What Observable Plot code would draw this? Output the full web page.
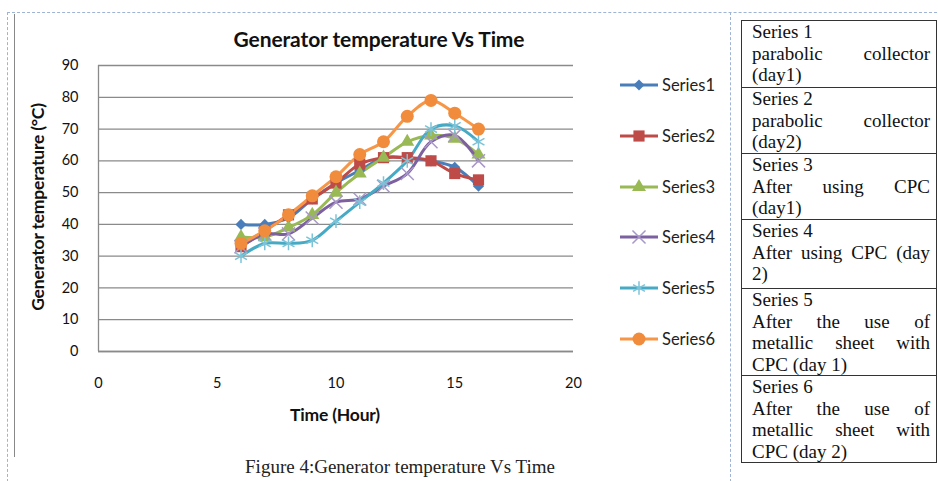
<!DOCTYPE html>
<html>
<head>
<meta charset="utf-8">
<script src="https://cdn.jsdelivr.net/npm/d3@7"></script>
<script src="https://cdn.jsdelivr.net/npm/@observablehq/plot@0.6"></script>
<style>
  html, body { margin: 0; padding: 0; background: #fff; }
  #page { position: relative; width: 938px; height: 481px; overflow: hidden; background: #fff; }
  .abs { position: absolute; }
  #title { left: 129px; width: 500px; top: 26px; text-align: center; font: bold 21px Lato, sans-serif; color: #111; letter-spacing: -0.1px; }
  #ylab { left: 37px; top: 207px; transform: translate(-50%, -50%) rotate(-90deg); white-space: nowrap; font: bold 17.5px Lato, sans-serif; color: #111; letter-spacing: -0.2px; }
  #xlab { left: 235px; width: 200px; top: 404px; text-align: center; font: bold 17.5px Lato, sans-serif; color: #111; letter-spacing: -0.2px; }
  #caption { left: 150px; width: 500px; top: 456px; text-align: center; font: 19px "Liberation Serif", serif; color: #222; letter-spacing: 0px; }
  #tbl { left: 741px; top: 20px; border-collapse: collapse; font: 19px/21.5px "Liberation Serif", serif; color: #111; }
  #tbl td { border: 1.5px solid #333; width: 178px; padding: 0 6px 0 10px; text-align: justify; vertical-align: top; }
</style>
</head>
<body>
<div id="page">
  <div class="abs" style="left:7px;top:12px;width:935px;height:0;border-top:1px dashed #9fb3d6;"></div>
  <div class="abs" style="left:7px;top:12px;width:0;height:470px;border-left:1px dashed #9fb3d6;"></div>
  <div class="abs" style="left:730px;top:12px;width:0;height:470px;border-left:1px dashed #9fb3d6;"></div>
  <div class="abs" style="left:14px;top:14px;width:0;height:443px;border-left:1.5px solid #888;"></div>
  <div id="chart" class="abs" style="left:0;top:0;"></div>
  <div id="title" class="abs">Generator temperature Vs Time</div>
  <div id="ylab" class="abs">Generator temperature (°C)</div>
  <div id="xlab" class="abs">Time (Hour)</div>
  <div id="caption" class="abs">Figure 4:Generator temperature Vs Time</div>
  <table id="tbl" class="abs">
    <tr style="height:67px"><td>Series 1<br>parabolic collector (day1)</td></tr>
    <tr style="height:66px"><td>Series 2<br>parabolic collector (day2)</td></tr>
    <tr style="height:66px"><td>Series 3<br>After using CPC (day1)</td></tr>
    <tr style="height:69px"><td>Series 4<br>After using CPC (day 2)</td></tr>
    <tr style="height:87px"><td>Series 5<br>After the use of metallic sheet with CPC (day 1)</td></tr>
    <tr style="height:87px"><td>Series 6<br>After the use of metallic sheet with CPC (day 2)</td></tr>
  </table>
</div>
<script>
// ---- data ----
const hours   = [6, 7, 8, 9, 10, 11, 12, 13, 14, 15, 16];
const series1 = [40, 40, 42, 48, 53, 57, 61, 61, 60, 58, 52];
const series2 = [33, 38, 43, 48, 53, 59, 61, 61, 60, 56, 54];
const series3 = [36, 36, 39, 43, 50, 56, 61, 66, 68, 67, 62];
const series4 = [33, 37, 37, 42, 47, 48, 52, 56, 66, 68, 60];
const series5 = [30, 34, 34, 35, 41, 47, 53, 60, 70, 71, 66];
const series6 = [34, 38, 43, 49, 55, 62, 66, 74, 79, 75, 70];
const seriesNames = ["Series1", "Series2", "Series3", "Series4", "Series5", "Series6"];
const xTicks = [0, 5, 10, 15, 20];
const yTicks = [0, 10, 20, 30, 40, 50, 60, 70, 80, 90];

// ---- styles ----
const colors  = ["#4A7EBB", "#BE4B48", "#98B954", "#7D60A0", "#46AAC5", "#F79646"];
const markerColors = ["#4A7EBB", "#BE4B48", "#98B954", "#A898C8", "#7CC3D8", "#F08C3C"];
const symbols = ["diamond2", "square", "triangle", "times", "asterisk", "circle"];
const radii   = [5, 6.3, 5.2, 6, 6.5, 6.5];
const filled  = [true, true, true, false, false, true];

const allSeries = [series1, series2, series3, series4, series5, series6];
const rows = allSeries.map((vals, i) => hours.map((h, j) => ({series: seriesNames[i], idx: i, x: h, y: vals[j]})));

const marks = [
  Plot.gridY(yTicks, {stroke: "#8a8a8a", strokeOpacity: 1, strokeWidth: 1.3}),
  Plot.ruleX([0], {stroke: "#8a8a8a", strokeWidth: 1.3}),
  Plot.ruleY([0], {stroke: "#8a8a8a", strokeWidth: 1.3}),
  Plot.axisY({ticks: yTicks, tickSize: 0, tickPadding: 20, fontSize: 14.5, label: null}),
  Plot.axisX({ticks: xTicks, tickSize: 0, tickPadding: 26, fontSize: 14.5, label: null})
];
rows.forEach((d, i) => {
  marks.push(Plot.line(d, {x: "x", y: "y", stroke: colors[i], strokeWidth: 3, curve: "catmull-rom"}));
});
rows.forEach((d, i) => {
  marks.push(Plot.dot(d, filled[i]
    ? {x: "x", y: "y", symbol: () => symbols[i], r: radii[i], fill: markerColors[i], stroke: "none"}
    : {x: "x", y: "y", symbol: () => symbols[i], r: radii[i], fill: "none", stroke: markerColors[i], strokeWidth: 1.5}));
});

const chart = Plot.plot({
  width: 738,
  height: 481,
  marginLeft: 98,
  marginRight: 165,
  marginTop: 65,
  marginBottom: 130,
  x: {domain: [0, 20]},
  y: {domain: [0, 90]},
  style: {fontFamily: "Lato, sans-serif", color: "#111", background: "transparent"},
  marks
});
document.getElementById("chart").appendChild(chart);

// ---- legend (drawn into the same svg) ----
const svg = d3.select(chart);
const lg = svg.append("g").attr("font-family", "Lato, sans-serif").attr("font-size", 16.5)
  .attr("fill", "#222").attr("text-anchor", "start");
const legendY = [85, 136, 187, 237, 288, 339];
const symMap = {diamond2: d3.symbolDiamond2, square: d3.symbolSquare, triangle: d3.symbolTriangle,
                times: d3.symbolTimes, asterisk: d3.symbolAsterisk, circle: d3.symbolCircle};
seriesNames.forEach((name, i) => {
  const g = lg.append("g").attr("transform", `translate(620,${legendY[i]})`);
  g.append("line").attr("x1", 0).attr("x2", 38).attr("y1", 0).attr("y2", 0)
    .attr("stroke", colors[i]).attr("stroke-width", 3);
  const path = d3.symbol(symMap[symbols[i]], Math.PI * radii[i] * radii[i])();
  const p = g.append("path").attr("d", path).attr("transform", "translate(19,0)");
  if (filled[i]) p.attr("fill", markerColors[i]);
  else p.attr("fill", "none").attr("stroke", markerColors[i]).attr("stroke-width", 1.5);
  g.append("text").attr("x", 42).attr("y", 0).attr("dy", "0.35em").text(name);
});
</script>
</body>
</html>
